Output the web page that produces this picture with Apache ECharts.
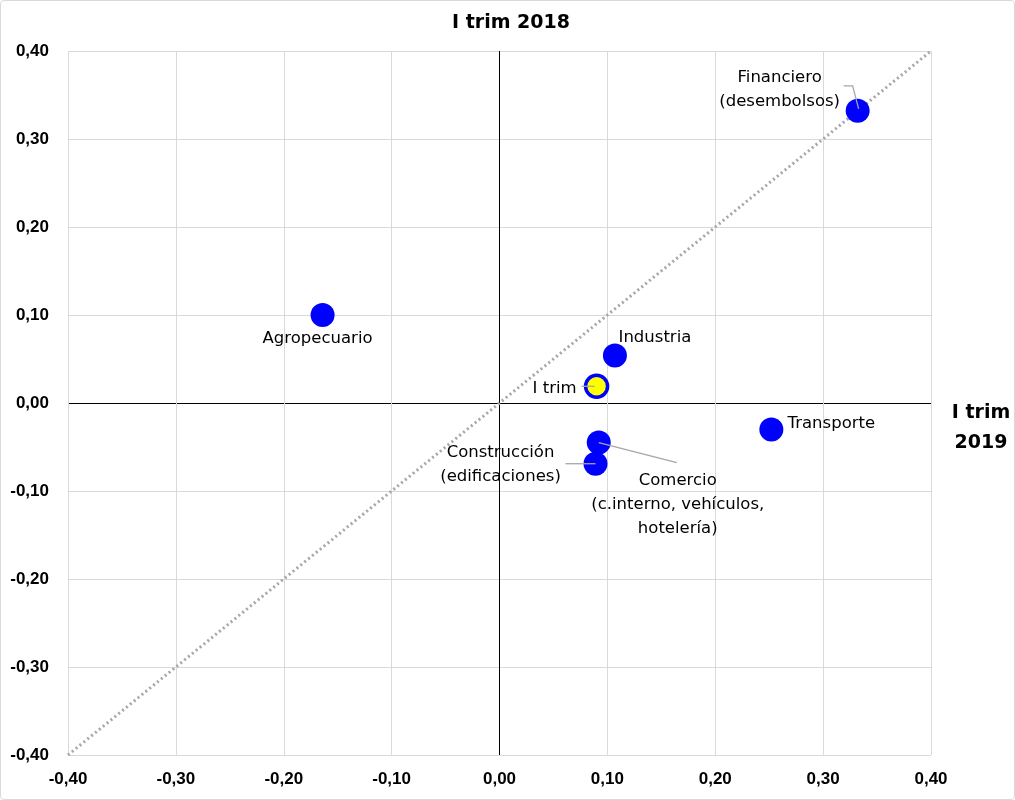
<!DOCTYPE html>
<html>
<head>
<meta charset="utf-8">
<script src="https://cdn.jsdelivr.net/npm/echarts@6/dist/echarts.min.js"></script>
<style>
html,body{margin:0;padding:0;background:#fff;}
#chart{width:1015px;height:800px;box-sizing:border-box;border:1px solid #d9d9d9;border-radius:4px;}
</style>
</head>
<body>
<div id="chart"></div>
<script>
// Data
var names = ['Financiero\n(desembolsos)', 'Agropecuario', 'Industria', 'Transporte', 'Comercio\n(c.interno, vehículos,\nhotelería)', 'Construcción\n(edificaciones)'];
var xValues = [0.332, -0.164, 0.107, 0.252, 0.092, 0.089]; // I trim 2019
var yValues = [0.332, 0.100, 0.054, -0.030, -0.045, -0.069]; // I trim 2018
var totalName = 'I trim';
var totalPoint = [0.090, 0.019];
var diagonal = [[-0.4, -0.4], [0.4, 0.4]];
var xTitle = 'I trim\n2019';
var yTitle = 'I trim 2018';

// label placement (styles, pixel offsets from the marker centre)
var labelOffsets = [[-78, -21], [-5, 24], [40, -18], [60, -6], [79, 62], [-95, 1]];
var totalLabelOffset = [-42, 2];
// leader lines (pixel offsets from the marker centre); null = none
var leaderOffsets = [[[-14, -25], [-5, -25], [1, -2]], null, null, null, [[0, 0], [78, 20]], [[-30, 0], [0, 0]]];
var totalLeader = [[-15, 0], [-2, 0]];

function fmt(v) { return v.toFixed(2).replace('.', ','); }

var labelFont = { fontFamily: 'DejaVu Sans', fontSize: 16.5, color: '#000', lineHeight: 24 };
var tickFont = { fontFamily: 'Liberation Sans', fontWeight: 'bold', fontSize: 17, color: '#000' };
var gridColors = ['#d9d9d9', '#d9d9d9', '#d9d9d9', '#d9d9d9', '#000000', '#d9d9d9', '#d9d9d9', '#d9d9d9', '#d9d9d9'];

var sectorData = names.map(function (n, i) {
  return { name: n, value: [xValues[i], yValues[i]] };
});

var chart = echarts.init(document.getElementById('chart'));
chart.setOption({
  animation: false,
  grid: { left: 67, right: 83, top: 50, bottom: 44, containLabel: false },
  xAxis: {
    type: 'value', min: -0.4, max: 0.4, interval: 0.1,
    axisLine: { show: false, onZero: false },
    axisTick: { show: false },
    axisLabel: Object.assign({ formatter: fmt, margin: 16 }, tickFont),
    splitLine: { show: true, lineStyle: { color: gridColors, width: 1 } }
  },
  yAxis: {
    type: 'value', min: -0.4, max: 0.4, interval: 0.1,
    axisLine: { show: false, onZero: false },
    axisTick: { show: false },
    axisLabel: Object.assign({ formatter: fmt, margin: 19 }, tickFont),
    splitLine: { show: true, lineStyle: { color: gridColors, width: 1 } }
  },
  series: [
    {
      type: 'line',
      data: diagonal,
      symbol: 'none',
      silent: true,
      lineStyle: { type: [2, 3], color: '#a6a6a6', width: 3 },
      z: 2
    },
    {
      type: 'scatter',
      data: sectorData,
      symbolSize: 24,
      itemStyle: { color: '#0000ff', opacity: 1 },
      label: Object.assign({ show: true, position: 'inside', align: 'center', verticalAlign: 'middle', formatter: '{b}' }, labelFont),
      labelLayout: function (p) {
        var o = labelOffsets[p.dataIndex];
        return { dx: o[0], dy: o[1] };
      },
      z: 3
    },
    {
      type: 'scatter',
      data: [{ name: totalName, value: totalPoint }],
      symbolSize: 22,
      itemStyle: { color: '#ffff00', borderColor: '#0000ff', borderWidth: 3.5, opacity: 1 },
      label: Object.assign({ show: true, position: 'inside', align: 'center', verticalAlign: 'middle', formatter: '{b}' }, labelFont),
      labelLayout: function () { return { dx: totalLabelOffset[0], dy: totalLabelOffset[1] }; },
      z: 4
    }
  ]
});

// Titles and leader lines, positioned from the library's own scales
var graphics = [
  { type: 'text', x: 510, y: 22, z: 100, style: { text: yTitle, textAlign: 'center', textVerticalAlign: 'middle', fill: '#000', font: 'bold 19px "DejaVu Sans"' } },
  { type: 'text', x: 980, y: 427, z: 100, style: { text: xTitle, textAlign: 'center', textVerticalAlign: 'middle', fill: '#000', font: 'bold 19px "DejaVu Sans"', lineHeight: 30 } }
];
function leader(center, offs) {
  return {
    type: 'polyline', z: 100, silent: true,
    shape: { points: offs.map(function (o) { return [center[0] + o[0], center[1] + o[1]]; }) },
    style: { stroke: '#a6a6a6', lineWidth: 1.3, fill: null }
  };
}
names.forEach(function (n, i) {
  if (!leaderOffsets[i]) return;
  var c = chart.convertToPixel({ seriesIndex: 1 }, [xValues[i], yValues[i]]);
  graphics.push(leader(c, leaderOffsets[i]));
});
var tc = chart.convertToPixel({ seriesIndex: 2 }, totalPoint);
graphics.push(leader(tc, totalLeader));
chart.setOption({ graphic: graphics });
</script>
</body>
</html>
